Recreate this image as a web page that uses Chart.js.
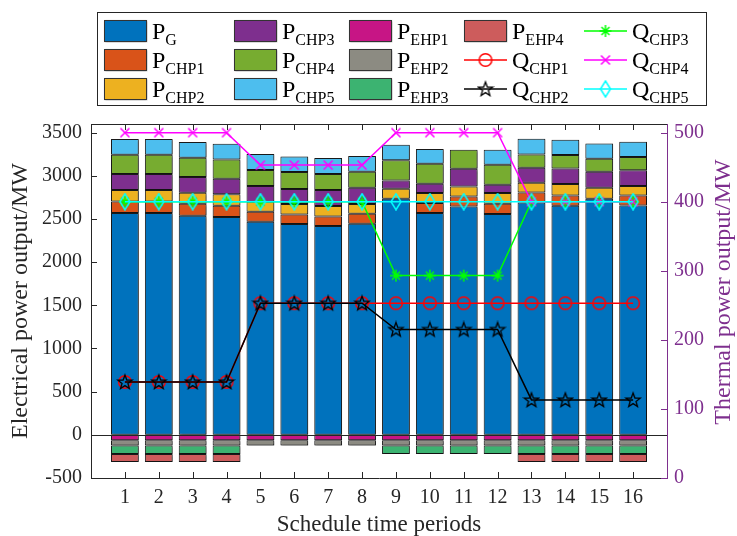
<!DOCTYPE html>
<html>
<head>
<meta charset="utf-8">
<script src="https://cdn.jsdelivr.net/npm/chart.js@4.4.1/dist/chart.umd.min.js"></script>
<style>
  html, body { margin: 0; padding: 0; background: #fff; }
  #wrap { position: relative; width: 737px; height: 536px; }
  #legend {
    position: absolute; left: 97px; top: 12px; width: 610px; height: 94px;
    border: 1px solid #262626; box-sizing: border-box; background: #fff;
    font-family: "Liberation Serif", "Times New Roman", serif; color: #000;
  }
  .item { position: absolute; height: 24px; display: flex; align-items: center; }
  .item canvas { margin-right: 4px; }
  .lbl { font-size: 24px; line-height: 24px; white-space: nowrap; }
  .lbl sub { font-size: 16px; vertical-align: -6px; line-height: 0; }
</style>
</head>
<body>
<div id="wrap">
  <canvas id="chart" width="737" height="536"></canvas>
  <div id="legend"></div>
</div>
<script>
// schedule periods and axis ticks
const periods = [1, 2, 3, 4, 5, 6, 7, 8, 9, 10, 11, 12, 13, 14, 15, 16];
const leftTicks = [-500, 0, 500, 1000, 1500, 2000, 2500, 3000, 3500];
const rightTicks = [0, 100, 200, 300, 400, 500];

// electrical output (MW), left axis
const pG    = [2569, 2569, 2538, 2523, 2468, 2441, 2418, 2445, 2735, 2569, 2645, 2557, 2692, 2654, 2735, 2657];
const pCHP1 = [134, 134, 139, 131, 116, 112, 112, 116, 0, 116, 116, 119, 116, 119, 0, 116];
const pCHP2 = [132, 132, 127, 131, 116, 120, 120, 112, 116, 116, 116, 124, 112, 132, 127, 109];
const pCHP3 = [186, 186, 182, 181, 182, 174, 185, 189, 96, 108, 205, 96, 174, 181, 185, 181];
const pCHP4 = [223, 223, 224, 224, 185, 197, 186, 186, 232, 232, 220, 232, 154, 155, 151, 155];
const pCHP5 = [182, 182, 182, 182, 186, 181, 185, 181, 182, 170, 0, 174, 182, 177, 177, 177];
const pEHP1 = [-62, -62, -62, -62, -62, -62, -62, -62, -62, -62, -62, -62, -62, -62, -62, -62];
const pEHP2 = [-63, -63, -63, -63, -63, -63, -63, -63, -63, -63, -63, -63, -63, -63, -63, -63];
const pEHP3 = [-97, -97, -97, -97, 0, 0, 0, 0, -97, -97, -97, -97, -97, -97, -97, -97];
const pEHP4 = [-93, -93, -93, -93, 0, 0, 0, 0, 0, 0, 0, 0, -93, -93, -93, -93];

// thermal output (MW), right axis
const qCHP1 = [139, 139, 139, 139, 253, 253, 253, 253, 253, 253, 253, 253, 253, 253, 253, 253];
const qCHP2 = [139, 139, 139, 139, 253, 253, 253, 253, 215, 215, 215, 215, 113, 113, 113, 113];
const qCHP3 = [400, 400, 400, 400, 400, 400, 400, 400, 293, 293, 293, 293, 400, 400, 400, 400];
const qCHP4 = [500, 500, 500, 500, 453, 453, 453, 453, 500, 500, 500, 500, 400, 400, 400, 400];
const qCHP5 = [400, 400, 400, 400, 400, 400, 400, 400, 400, 400, 400, 400, 400, 400, 400, 400];

const xTitle = 'Schedule time periods';
const yTitle = 'Electrical power output/MW';
const y2Title = 'Thermal power output/MW';

const serif = '"Liberation Serif", "Times New Roman", serif';
const ink = '#262626';
const purple = '#7E2F8E';

// little marker images, reused for points and the legend
function makeMarker(kind, color) {
    const c = document.createElement('canvas');
    c.width = 18; c.height = 18;
    const g = c.getContext('2d');
    g.strokeStyle = color;
    g.lineWidth = 1.5;
    g.beginPath();
    if (kind === 'circle') {
        g.arc(9, 9, 6.3, 0, Math.PI * 2);
    } else if (kind === 'pentagram') {
        g.lineWidth = 1.3;
        for (let i = 0; i < 10; i++) {
            const r = i % 2 === 0 ? 7.5 : 3.1;
            const a = -Math.PI / 2 + i * Math.PI / 5;
            const px = 9 + r * Math.cos(a), py = 9.5 + r * Math.sin(a);
            if (i === 0) g.moveTo(px, py); else g.lineTo(px, py);
        }
        g.closePath();
    } else if (kind === 'asterisk') {
        g.moveTo(9, 3); g.lineTo(9, 15);
        g.moveTo(3, 9); g.lineTo(15, 9);
        g.moveTo(5, 5); g.lineTo(13, 13);
        g.moveTo(13, 5); g.lineTo(5, 13);
    } else if (kind === 'cross') {
        g.moveTo(4.5, 4.5); g.lineTo(13.5, 13.5);
        g.moveTo(13.5, 4.5); g.lineTo(4.5, 13.5);
    } else if (kind === 'diamond') {
        g.moveTo(9, 1); g.lineTo(14, 9); g.lineTo(9, 17); g.lineTo(4, 9);
        g.closePath();
    }
    g.stroke();
    return c;
}

const toBar = arr => arr.map((v, i) => ({ x: periods[i], y: v === 0 ? null : v }));
const toLine = arr => arr.map((v, i) => ({ x: periods[i], y: v }));

function barSet(name, arr, color) {
    return {
        type: 'bar', label: name, data: toBar(arr), backgroundColor: color,
        borderColor: '#1a1a1a', borderWidth: 1, borderSkipped: false,
        yAxisID: 'y', order: 10, barPercentage: 0.82, categoryPercentage: 1
    };
}
function lineSet(name, arr, color, kind, order) {
    return {
        type: 'line', label: name, data: toLine(arr), borderColor: color, borderWidth: 1.5,
        pointStyle: makeMarker(kind, color), pointRadius: 7, yAxisID: 'yR', order: order,
        fill: false, tension: 0
    };
}

const datasets = [
    barSet('P_G', pG, '#0072BD'),
    barSet('P_CHP1', pCHP1, '#D95319'),
    barSet('P_CHP2', pCHP2, '#EDB120'),
    barSet('P_CHP3', pCHP3, '#7E2F8E'),
    barSet('P_CHP4', pCHP4, '#77AC30'),
    barSet('P_CHP5', pCHP5, '#4DBEEE'),
    barSet('P_EHP1', pEHP1, '#C71585'),
    barSet('P_EHP2', pEHP2, '#8C8B82'),
    barSet('P_EHP3', pEHP3, '#3CB371'),
    barSet('P_EHP4', pEHP4, '#CD5C5C'),
    lineSet('Q_CHP1', qCHP1, '#FF0000', 'circle', 5),
    lineSet('Q_CHP2', qCHP2, '#000000', 'pentagram', 4),
    lineSet('Q_CHP3', qCHP3, '#00FF00', 'asterisk', 3),
    lineSet('Q_CHP4', qCHP4, '#FF00FF', 'cross', 2),
    lineSet('Q_CHP5', qCHP5, '#00FFFF', 'diamond', 1)
];

const frame = {
    id: 'frame',
    beforeDatasetDraw(chart, args) {
        if (args.meta.type === 'bar') {
            const ctx = chart.ctx;
            ctx.shadowColor = 'rgba(0,0,0,0.45)';
            ctx.shadowBlur = 2;
            ctx.shadowOffsetX = 1;
            ctx.shadowOffsetY = 1;
        }
    },
    afterDatasetDraw(chart) {
        const ctx = chart.ctx;
        ctx.shadowColor = 'rgba(0,0,0,0)';
        ctx.shadowBlur = 0;
        ctx.shadowOffsetX = 0;
        ctx.shadowOffsetY = 0;
    },
    afterDraw(chart) {
        const { ctx, chartArea: a, scales } = chart;
        ctx.save();
        ctx.lineWidth = 1;
        ctx.strokeStyle = ink;
        // zero line and top edge
        const y0 = Math.round(scales.y.getPixelForValue(0)) + 0.5;
        ctx.beginPath();
        ctx.moveTo(a.left, y0); ctx.lineTo(a.right, y0);
        ctx.moveTo(a.left, a.top + 0.5); ctx.lineTo(a.right, a.top + 0.5);
        // inward ticks
        periods.forEach(p => {
            const x = Math.round(scales.x.getPixelForValue(p)) + 0.5;
            ctx.moveTo(x, a.bottom); ctx.lineTo(x, a.bottom - 6);
            ctx.moveTo(x, a.top); ctx.lineTo(x, a.top + 6);
        });
        leftTicks.forEach(v => {
            const y = Math.round(scales.y.getPixelForValue(v)) + 0.5;
            ctx.moveTo(a.left, y); ctx.lineTo(a.left + 6, y);
        });
        ctx.stroke();
        ctx.strokeStyle = purple;
        ctx.beginPath();
        rightTicks.forEach(v => {
            const y = Math.round(scales.yR.getPixelForValue(v)) + 0.5;
            ctx.moveTo(a.right, y); ctx.lineTo(a.right - 6, y);
        });
        ctx.stroke();
        // right axis title reads bottom to top
        ctx.translate(724, 292);
        ctx.rotate(-Math.PI / 2);
        ctx.fillStyle = purple;
        ctx.font = '24px ' + serif;
        ctx.textAlign = 'center';
        ctx.textBaseline = 'middle';
        ctx.fillText(y2Title, 0, 0);
        ctx.restore();
    }
};

const chart = new Chart(document.getElementById('chart'), {
    type: 'bar',
    data: { datasets: datasets },
    options: {
        responsive: false,
        animation: false,
        layout: { padding: { top: 124, left: 0, right: 0, bottom: 0 } },
        plugins: { legend: { display: false }, tooltip: { enabled: false } },
        scales: {
            x: {
                type: 'linear', min: 0, max: 17, stacked: true, offset: false,
                afterBuildTicks: s => { s.ticks = periods.map(v => ({ value: v })); },
                ticks: { font: { family: serif, size: 20 }, color: ink, padding: 8, maxRotation: 0, autoSkip: false,
                         callback: v => String(v) },
                grid: { display: false, drawTicks: false },
                border: { display: true, color: ink, width: 1 },
                title: { display: true, text: xTitle, color: ink, font: { family: serif, size: 23, lineHeight: 1 }, padding: 0 },
                afterFit: s => { s.height = 58; }
            },
            y: {
                position: 'left', stacked: true, min: -500, max: 3600,
                afterBuildTicks: s => { s.ticks = leftTicks.map(v => ({ value: v })); },
                ticks: { font: { family: serif, size: 20 }, color: ink, padding: 9, callback: v => String(v) },
                grid: { display: false, drawTicks: false },
                border: { display: true, color: ink, width: 1 },
                title: { display: true, text: yTitle, color: ink, font: { family: serif, size: 24, lineHeight: 1 }, padding: { top: 9 } },
                afterFit: s => { s.width = 91; }
            },
            yR: {
                position: 'right', stacked: false, min: 0, max: 512.5,
                afterBuildTicks: s => { s.ticks = rightTicks.map(v => ({ value: v })); },
                ticks: { font: { family: serif, size: 20 }, color: purple, padding: 7, callback: v => String(v) },
                grid: { display: false, drawTicks: false },
                border: { display: true, color: purple, width: 1 },
                afterFit: s => { s.width = 70; }
            }
        }
    },
    plugins: [frame]
});

// legend laid out column by column, three rows each
const legend = document.getElementById('legend');
const colX = [5, 135, 250, 365, 485];
const rowY = [6, 35, 64];
chart.data.datasets.forEach((ds, i) => {
    const item = document.createElement('div');
    item.className = 'item';
    item.style.left = colX[Math.floor(i / 3)] + 'px';
    item.style.top = rowY[i % 3] + 'px';
    const icon = document.createElement('canvas');
    icon.width = 45; icon.height = 24;
    const g = icon.getContext('2d');
    if (ds.type === 'bar') {
        g.shadowColor = 'rgba(0,0,0,0.45)';
        g.shadowBlur = 2; g.shadowOffsetX = 1; g.shadowOffsetY = 1;
        g.fillStyle = ds.backgroundColor;
        g.fillRect(1, 1, 42, 21);
        g.shadowColor = 'rgba(0,0,0,0)';
        g.strokeStyle = '#333';
        g.strokeRect(1.5, 1.5, 42, 21);
    } else {
        g.strokeStyle = ds.borderColor;
        g.lineWidth = 1.5;
        g.beginPath(); g.moveTo(1, 12); g.lineTo(44, 12); g.stroke();
        g.drawImage(ds.pointStyle, 22.5 - 9, 12 - 9);
    }
    const parts = ds.label.split('_');
    const lbl = document.createElement('span');
    lbl.className = 'lbl';
    lbl.innerHTML = parts[0] + '<sub>' + parts[1] + '</sub>';
    item.appendChild(icon);
    item.appendChild(lbl);
    legend.appendChild(item);
});
</script>
</body>
</html>
